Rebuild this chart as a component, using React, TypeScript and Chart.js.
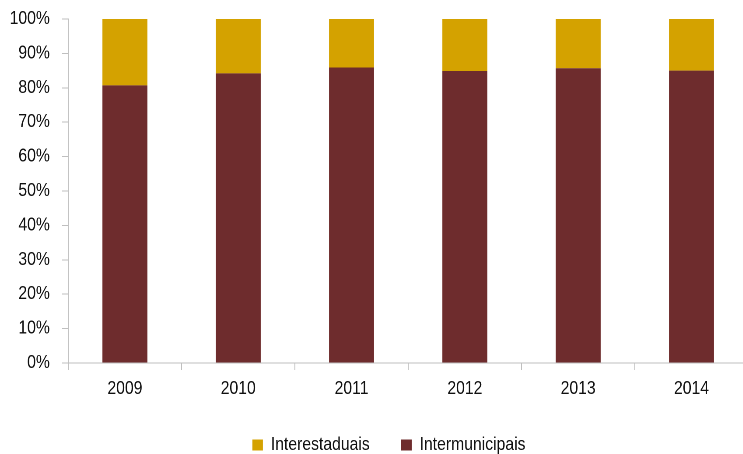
import React, { useEffect, useRef } from "react";
import { Chart, registerables } from "chart.js";

Chart.register(...registerables);

const years = ["2009", "2010", "2011", "2012", "2013", "2014"];
const intermunicipais = [80.7, 84.2, 85.9, 84.9, 85.7, 85.0];
const interestaduais = [19.3, 15.8, 14.1, 15.1, 14.3, 15.0];
const yTicks = [0, 10, 20, 30, 40, 50, 60, 70, 80, 90, 100];

const SX = 0.875;
const CW = 855;
const CH = 454;

export default function App() {
  const ref = useRef<HTMLCanvasElement | null>(null);

  useEffect(() => {
    document.body.style.margin = "0";
    document.body.style.overflow = "hidden";
    const canvas = ref.current;
    if (!canvas) return;
    const axisColor = "#BFBFBF";
    const textColor = "#111111";
    const font = { family: "'Liberation Sans', Arial, sans-serif", size: 18 };

    const shiftLegend = {
      id: "shiftLegend",
      afterLayout(chart: any) {
        const lg = chart.legend;
        if (lg) {
          lg.left += 17;
          lg.right += 17;
        }
      },
    };

    const chart = new Chart(canvas, {
      type: "bar",
      data: {
        labels: years,
        datasets: [
          {
            label: "Intermunicipais",
            data: intermunicipais,
            backgroundColor: "#6E2C2D",
            borderWidth: 0,
            barPercentage: 0.397,
            categoryPercentage: 1,
          },
          {
            label: "Interestaduais",
            data: interestaduais,
            backgroundColor: "#D4A200",
            borderWidth: 0,
            barPercentage: 0.397,
            categoryPercentage: 1,
          },
        ],
      },
      options: {
        animation: false,
        responsive: false,
        devicePixelRatio: 2,
        layout: { padding: { top: 19, left: 0, right: 0, bottom: 0 } },
        plugins: {
          legend: {
            position: "bottom",
            reverse: true,
            maxHeight: 54,
            labels: {
              boxWidth: 12,
              boxHeight: 11,
              padding: 36,
              color: textColor,
              font,
            },
          },
          tooltip: { enabled: false },
        },
        scales: {
          x: {
            stacked: true,
            afterFit: (s: any) => {
              s.height = 37;
              s.paddingLeft = 0;
              s.paddingRight = 0;
            },
            grid: {
              drawOnChartArea: false,
              drawTicks: true,
              tickLength: 7,
              color: axisColor,
              offset: true,
            },
            border: { color: axisColor, width: 1 },
            ticks: { color: textColor, font, padding: 8, maxRotation: 0 },
          },
          y: {
            stacked: true,
            min: 0,
            max: 100,
            afterFit: (s: any) => {
              s.width = 78;
              s.paddingTop = 0;
              s.paddingBottom = 0;
            },
            afterBuildTicks: (s: any) => {
              s.ticks = yTicks.map((v) => ({ value: v }));
            },
            grid: {
              drawOnChartArea: false,
              drawTicks: true,
              tickLength: 7,
              color: axisColor,
            },
            border: { color: axisColor, width: 1 },
            ticks: {
              color: textColor,
              font,
              padding: 14,
              callback: (v: any) => v + "%",
            },
          },
        },
      },
      plugins: [shiftLegend],
    });
    return () => chart.destroy();
  }, []);

  return (
    <div
      style={{
        position: "absolute",
        left: 0,
        top: 0,
        width: 743,
        height: 454,
        overflow: "hidden",
        background: "#fff",
      }}
    >
      <div
        style={{
          width: CW,
          height: CH,
          transform: `scaleX(${SX})`,
          transformOrigin: "0 0",
        }}
      >
        <canvas ref={ref} width={CW} height={CH} style={{ width: CW, height: CH, display: "block" }} />
      </div>
    </div>
  );
}
